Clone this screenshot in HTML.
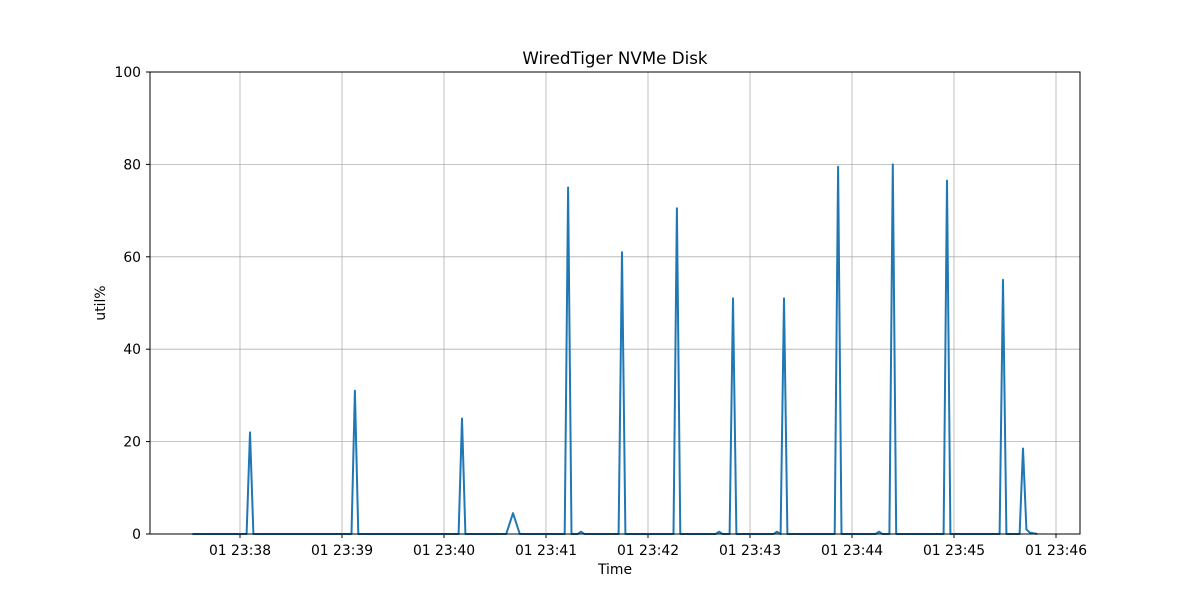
<!DOCTYPE html>
<html><head><meta charset="utf-8"><style>
body{margin:0;background:#fff}
svg text{font-family:"DejaVu Sans","Liberation Sans",sans-serif;fill:#000}
</style></head><body>
<svg id="chart" width="1200" height="600">
<rect width="1200" height="600" fill="#fff"/>
<g id="grid"></g>
<g id="ticks"></g>
<path id="line" fill="none" stroke="#1f77b4" stroke-width="2" stroke-linejoin="round"/>
<rect x="150" y="72" width="930" height="462" fill="none" stroke="#000" stroke-width="1"/>
<text x="615" y="64" text-anchor="middle" font-size="16.7">WiredTiger NVMe Disk</text>
<text x="615" y="574" text-anchor="middle" font-size="13.9">Time</text>
<text transform="translate(105,303) rotate(-90)" text-anchor="middle" font-size="13.9">util%</text>
</svg>
<script>
// seconds relative to 23:38:00
const times = [-28,3.9,5.9,7.9,65.6,67.6,69.6,128.6,130.6,132.6,156.6,160.6,164.6,191,193,195,198.6,200.6,202.6,222.7,224.7,226.7,255,257,259,279.8,281.8,283.8,288,290,292,313.9,315.9,318,320,322,349.8,351.8,353.8,373.9,375.9,377.9,382,384,386,413.9,415.9,417.9,446.8,448.8,450.8,458.6,460.6,462.6,464.6,469];
const values = [0,0,22,0,0,31,0,0,25,0,0,4.5,0,0,75,0,0,0.5,0,0,61,0,0,70.5,0,0,0.5,0,0,51,0,0,0.5,0,51,0,0,79.5,0,0,0.5,0,0,80,0,0,76.5,0,0,55,0,0,18.5,1,0.3,0];
const yTicks = [0,20,40,60,80,100];
const xTickLabels = ["01 23:38","01 23:39","01 23:40","01 23:41","01 23:42","01 23:43","01 23:44","01 23:45","01 23:46"];
const xTickSecs = [0,60,120,180,240,300,360,420,480];

const X = s => 240 + s * 1.7;
const Y = v => 534 - v * 4.62;
const NS = "http://www.w3.org/2000/svg";
const grid = document.getElementById('grid'), ticks = document.getElementById('ticks');
function mk(tag, attrs, parent){const e=document.createElementNS(NS,tag);for(const k in attrs)e.setAttribute(k,attrs[k]);parent.appendChild(e);return e;}
yTicks.forEach(v=>{
  const y=Y(v);
  const g=mk('line',{x1:150,x2:1080,y1:y,y2:y,stroke:'#b0b0b0','stroke-width':0.8},grid);
  
  
  mk('line',{x1:146,x2:150,y1:y,y2:y,stroke:'#000'},ticks);
  const t=mk('text',{x:141,y:y+5,'text-anchor':'end','font-size':13.9},ticks);
  t.textContent=v;
  
  
});
xTickSecs.forEach((s,i)=>{
  const x=X(s);
  const g=mk('line',{x1:x,x2:x,y1:72,y2:534,stroke:'#b0b0b0','stroke-width':0.8},grid);
  
  
  mk('line',{x1:x,x2:x,y1:534,y2:538,stroke:'#000'},ticks);
  const t=mk('text',{x:x,y:555,'text-anchor':'middle','font-size':13.9},ticks);
  t.textContent=xTickLabels[i];
  
  
});
document.getElementById('line').setAttribute('d', times.map((t,i)=>(i?'L':'M')+X(t).toFixed(1)+','+Y(values[i]).toFixed(1)).join(''));
</script>
</body></html>
